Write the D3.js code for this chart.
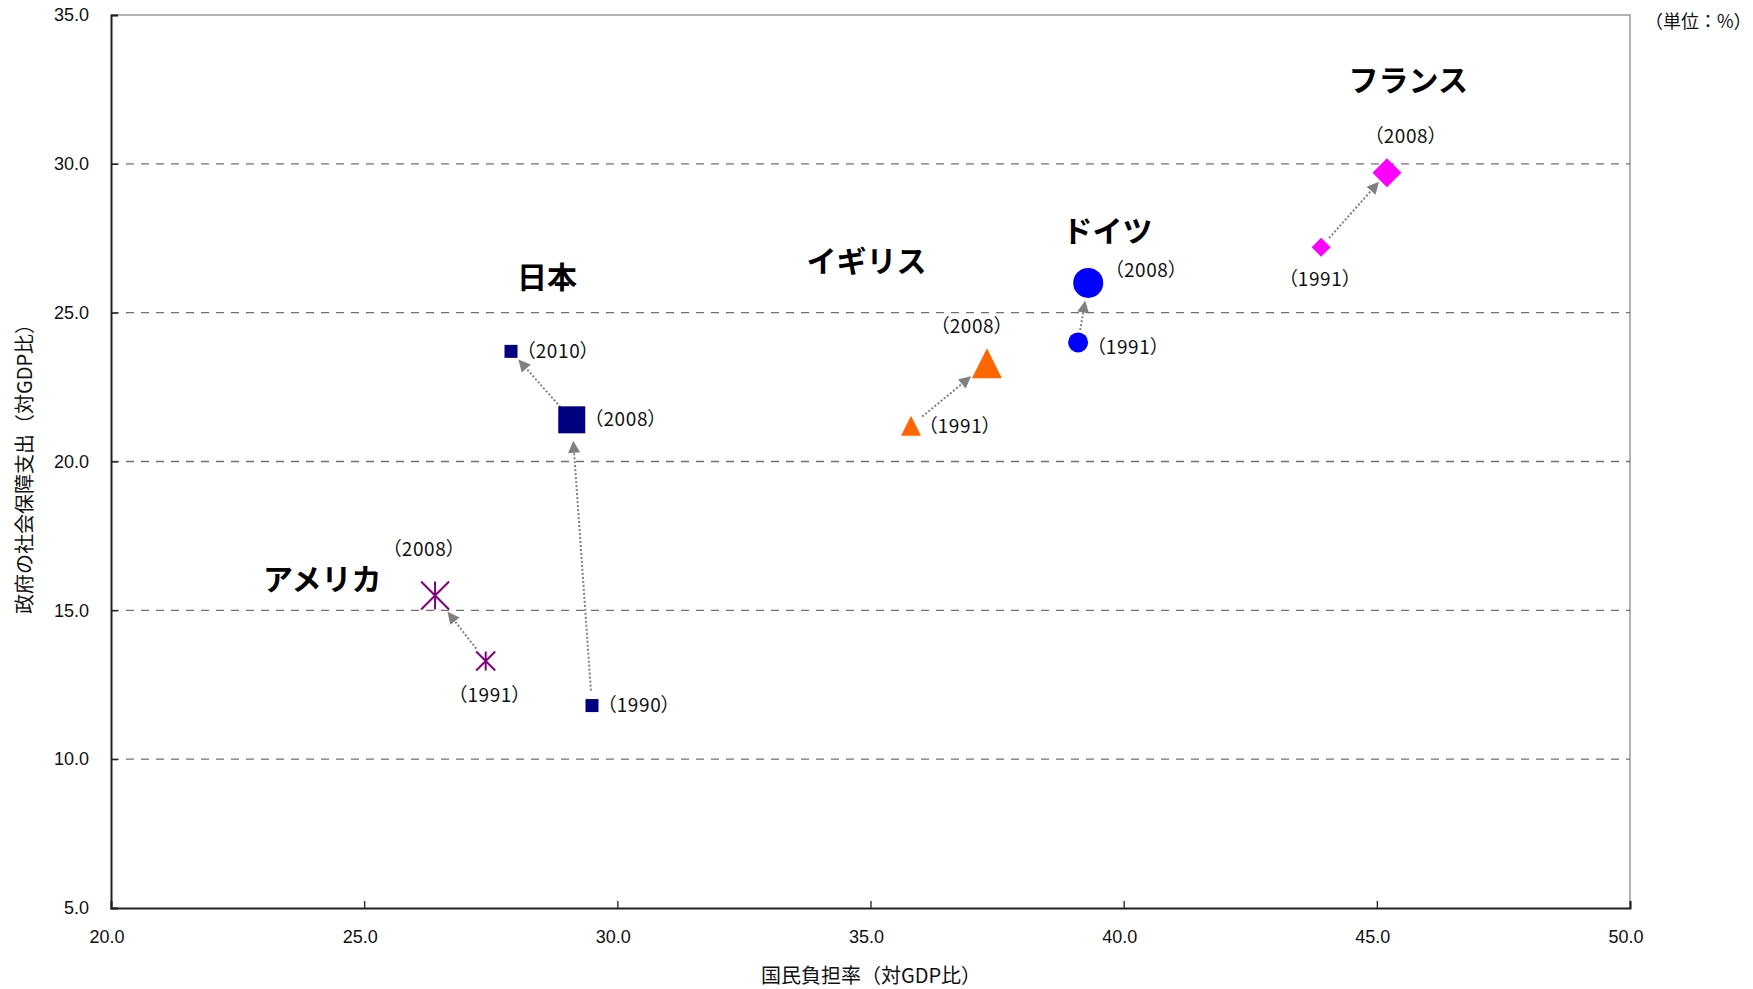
<!DOCTYPE html>
<html lang="ja">
<head>
<meta charset="utf-8">
<script src="https://cdn.jsdelivr.net/npm/d3@7/dist/d3.min.js"></script>
<style>
  html, body { margin: 0; padding: 0; background: #fff; }
  svg { display: block; }
  .jp { font-family: "Noto Sans CJK JP", "Noto Sans", sans-serif; }
  .yr { font-family: "Noto Sans CJK JP", sans-serif; font-feature-settings: "palt"; }
  .tick-label { font-family: "Liberation Sans", Arial, sans-serif; }
</style>
</head>
<body>
<svg id="chart" width="1753" height="989"></svg>
<script>
// 国民負担率と社会保障支出の推移（各国）
const countries   = ["日本", "日本", "日本", "アメリカ", "アメリカ", "イギリス", "イギリス", "ドイツ", "ドイツ", "フランス", "フランス"];
const years       = [1990, 2008, 2010, 1991, 2008, 1991, 2008, 1991, 2008, 1991, 2008];
const burdenRate  = [29.5, 29.1, 27.9, 27.4, 26.4, 35.8, 37.3, 39.1, 39.3, 43.9, 45.2];   // 国民負担率（対GDP比）
const socialSpend = [11.8, 21.4, 23.7, 13.3, 15.5, 21.2, 23.3, 24.0, 26.0, 27.2, 29.7];   // 政府の社会保障支出（対GDP比）

// 推移を示す矢印（始点・終点のインデックス）
const arrowFrom = [0, 1, 3, 5, 7, 9];
const arrowTo   = [1, 2, 4, 6, 8, 10];

// 国名ラベル（データ座標）
const nameText = ["日本", "イギリス", "ドイツ", "フランス", "アメリカ"];
const nameX    = [28.61, 34.92, 39.68, 45.62, 24.17];
const nameY    = [26.18, 26.72, 27.74, 32.82, 16.05];

const xTicks = [20, 25, 30, 35, 40, 45, 50];
const yTicks = [5, 10, 15, 20, 25, 30, 35];

// --- 表示設定 ---
const W = 1753, H = 989;
const plot = { left: 111, right: 1630, top: 15, bottom: 908 };

const markerStyle = {
  "日本":     { shape: "square",   color: "#000080" },
  "アメリカ": { shape: "asterisk", color: "#800080" },
  "イギリス": { shape: "triangle", color: "#FF6600" },
  "ドイツ":   { shape: "circle",   color: "#0000FF" },
  "フランス": { shape: "diamond",  color: "#FF00FF" }
};
const sizeFor = (c, y) => {
  const big = y === 2008;
  switch (markerStyle[c].shape) {
    case "square":   return big ? 27 : 13;
    case "asterisk": return big ? 28 : 19;
    case "triangle": return big ? 30 : 20;
    case "circle":   return big ? 30 : 20;
    case "diamond":  return big ? 29 : 19;
  }
};
// ラベル位置（マーカー中心からのずれ, px）
const labelOffset = [[47, 0], [54, 0], [47, 0], [4, 34], [-11, -46], [49, 1], [-15, -37], [50, 5], [58, -13], [-1, 32], [19, -36]];
// 矢印の始点側・終点側の余白 (px)
const arrowGap = [[15, 21], [17, 11], [15.5, 20.5], [14.5, 20.5], [12.5, 18], [12, 12]];

const svg = d3.select("#chart");

const x = d3.scaleLinear().domain([20, 50]).range([plot.left, plot.right]);
const y = d3.scaleLinear().domain([5, 35]).range([plot.bottom, plot.top]);

// 枠（上・右は灰色）
svg.append("path")
  .attr("d", `M${plot.left},${plot.top}H${plot.right}V${plot.bottom}`)
  .attr("fill", "none").attr("stroke", "#999").attr("stroke-width", 1.5);

// 目盛線（破線）
svg.append("g").selectAll("line")
  .data(yTicks.filter(v => v > 5 && v < 35))
  .join("line")
  .attr("x1", plot.left).attr("x2", plot.right)
  .attr("y1", d => y(d)).attr("y2", d => y(d))
  .attr("stroke", "#707070").attr("stroke-width", 1.3)
  .attr("stroke-dasharray", "8,7");

// 軸
const xAxis = svg.append("g")
  .attr("transform", `translate(0,${plot.bottom})`)
  .call(d3.axisTop(x).tickValues(xTicks).tickSize(7).tickFormat(""));
const yAxis = svg.append("g")
  .attr("transform", `translate(${plot.left},0)`)
  .call(d3.axisRight(y).tickValues(yTicks).tickSize(7).tickFormat(""));
[xAxis, yAxis].forEach(g => {
  g.select(".domain").attr("stroke", "#222").attr("stroke-width", 2);
  g.selectAll(".tick line").attr("stroke", "#222").attr("stroke-width", 1.3);
});

// 目盛ラベル
svg.append("g").selectAll("text")
  .data(xTicks).join("text")
  .attr("class", "tick-label")
  .attr("x", d => x(d) - 4).attr("y", plot.bottom + 35)
  .attr("text-anchor", "middle").attr("font-size", 18).attr("fill", "#111")
  .text(d => d.toFixed(1));
svg.append("g").selectAll("text")
  .data(yTicks).join("text")
  .attr("class", "tick-label")
  .attr("x", 89).attr("y", d => y(d)).attr("dy", "0.35em")
  .attr("text-anchor", "end").attr("font-size", 18).attr("fill", "#111")
  .text(d => d.toFixed(1));

// 軸タイトル
svg.append("text").attr("class", "jp")
  .attr("x", 871).attr("y", 976).attr("dy", "0.35em")
  .attr("text-anchor", "middle").attr("font-size", 20).attr("fill", "#111")
  .text("国民負担率（対GDP比）");
svg.append("text").attr("class", "jp")
  .attr("transform", "translate(25,464) rotate(-90)").attr("dy", "0.35em")
  .attr("text-anchor", "middle").attr("font-size", 20).attr("fill", "#111")
  .text("政府の社会保障支出（対GDP比）");
svg.append("text").attr("class", "jp")
  .attr("x", 1645).attr("y", 22).attr("dy", "0.35em")
  .attr("font-size", 18).attr("fill", "#111")
  .text("（単位：%）");

// 矢印
const arrows = arrowFrom.map((f, i) => {
  const t = arrowTo[i];
  const x1 = x(burdenRate[f]), y1 = y(socialSpend[f]);
  const x2 = x(burdenRate[t]), y2 = y(socialSpend[t]);
  const len = Math.hypot(x2 - x1, y2 - y1);
  const ux = (x2 - x1) / len, uy = (y2 - y1) / len;
  const [g1, g2] = arrowGap[i];
  return { x1: x1 + ux * g1, y1: y1 + uy * g1, x2: x2 - ux * g2, y2: y2 - uy * g2, ux, uy };
});
const ag = svg.append("g");
ag.selectAll("line.shaft").data(arrows).join("line")
  .attr("class", "shaft")
  .attr("x1", d => d.x1).attr("y1", d => d.y1)
  .attr("x2", d => d.x2 - d.ux * 10).attr("y2", d => d.y2 - d.uy * 10)
  .attr("stroke", "#808080").attr("stroke-width", 2)
  .attr("stroke-dasharray", "2,2");
ag.selectAll("path.head").data(arrows).join("path")
  .attr("class", "head")
  .attr("d", d => {
    const bx = d.x2 - d.ux * 12, by = d.y2 - d.uy * 12;
    const px = -d.uy * 6, py = d.ux * 6;
    return `M${d.x2},${d.y2}L${bx + px},${by + py}L${bx - px},${by - py}Z`;
  })
  .attr("fill", "#808080");

// マーカー
const pts = countries.map((c, i) => ({ c, yr: years[i], cx: x(burdenRate[i]), cy: y(socialSpend[i]) }));
const mg = svg.append("g");
pts.forEach(p => {
  const st = markerStyle[p.c];
  const s = sizeFor(p.c, p.yr), h = s / 2;
  if (st.shape === "square") {
    mg.append("rect").attr("x", p.cx - h).attr("y", p.cy - h)
      .attr("width", s).attr("height", s).attr("fill", st.color);
  } else if (st.shape === "circle") {
    mg.append("circle").attr("cx", p.cx).attr("cy", p.cy).attr("r", h).attr("fill", st.color);
  } else if (st.shape === "triangle") {
    mg.append("path")
      .attr("d", `M${p.cx},${p.cy - h}L${p.cx + h},${p.cy + h}L${p.cx - h},${p.cy + h}Z`)
      .attr("fill", st.color);
  } else if (st.shape === "diamond") {
    mg.append("path")
      .attr("d", `M${p.cx},${p.cy - h}L${p.cx + h},${p.cy}L${p.cx},${p.cy + h}L${p.cx - h},${p.cy}Z`)
      .attr("fill", st.color);
  } else if (st.shape === "asterisk") {
    mg.append("path")
      .attr("d", `M${p.cx - h},${p.cy - h}L${p.cx + h},${p.cy + h}M${p.cx + h},${p.cy - h}L${p.cx - h},${p.cy + h}M${p.cx},${p.cy - h}L${p.cx},${p.cy + h}`)
      .attr("stroke", st.color).attr("stroke-width", 2).attr("fill", "none");
  }
});

// 年ラベル
svg.append("g").selectAll("text")
  .data(pts).join("text")
  .attr("class", "yr")
  .attr("x", (d, i) => d.cx + labelOffset[i][0])
  .attr("y", (d, i) => d.cy + labelOffset[i][1])
  .attr("dy", "0.35em")
  .attr("text-anchor", "middle").attr("font-size", 19).attr("fill", "#111")
  .attr("letter-spacing", 0.6)
  .text(d => `（${d.yr}）`);

// 国名
svg.append("g").selectAll("text")
  .data(nameText).join("text")
  .attr("class", "jp")
  .attr("x", (d, i) => x(nameX[i])).attr("y", (d, i) => y(nameY[i]))
  .attr("dy", "0.36em")
  .attr("text-anchor", "middle").attr("font-size", 30).attr("font-weight", 700)
  .attr("fill", "#000")
  .text(d => d);
</script>
</body>
</html>
